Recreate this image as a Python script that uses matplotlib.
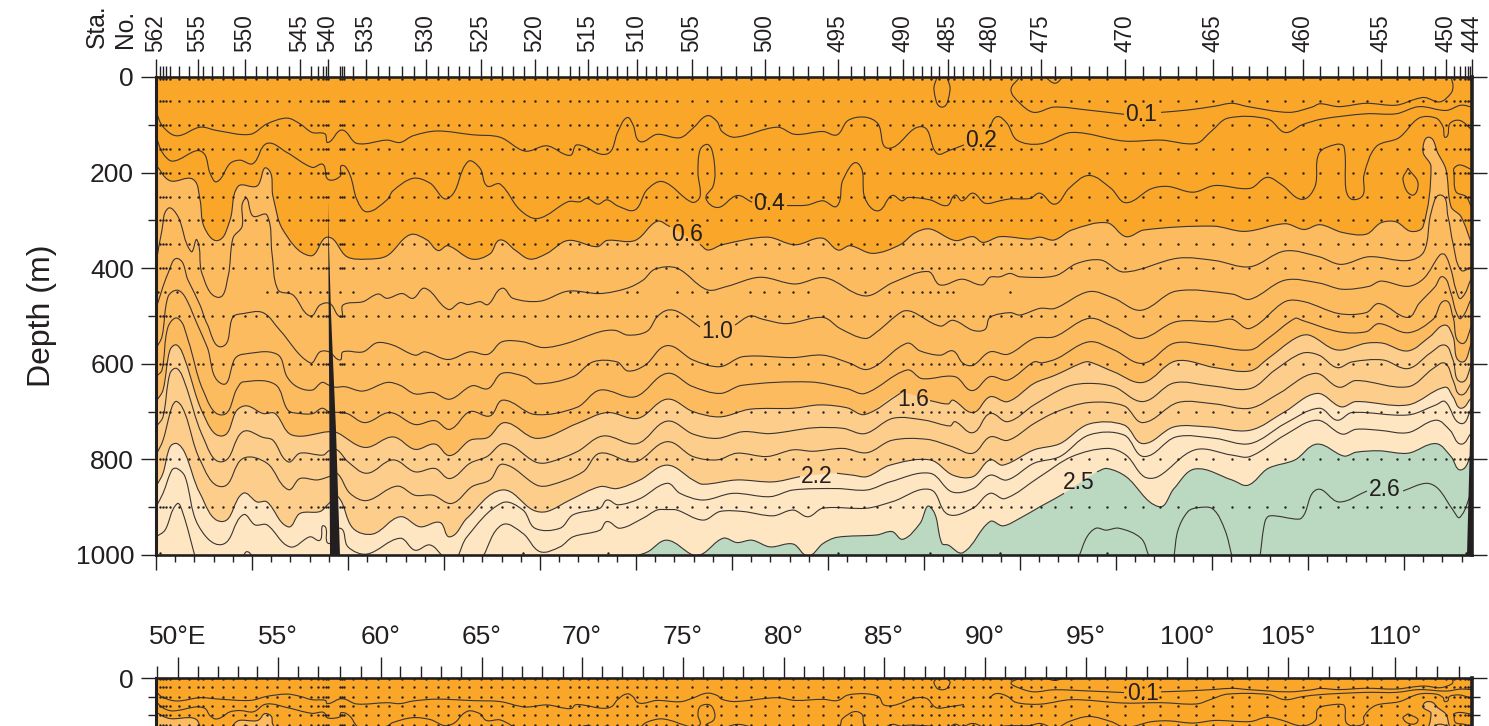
import numpy as np
import matplotlib
matplotlib.use("Agg")
import matplotlib.pyplot as plt
from matplotlib.path import Path
from matplotlib.patches import PathPatch, Polygon

plt.rcParams['font.family'] = ['Liberation Sans', 'DejaVu Sans']
N = float('nan')
GAP = (N, N)
INK = '#231F20'

# station positions (distance along the section) and numbers 562 ... 444
station_numbers = list(range(562, 443, -1))
station_dist = [0,4,7,10,14,23,33,42,47,56,67,77,89,100,111,121,133,144,155,162,167,170,172,184,186,188,197,210,222,233,246,258,270,282,292,303,313,325,335,346,357,368,379,391,402,414,423,432,441,451,461,471,481,490,500,510,521,536,551,565,580,595,609,623,637,652,667,682,695,708,721,734,747,757,766,775,783,792,798,807,817,827,834,845,855,865,875,885,899,915,933,951,969,987,1004,1022,1040,1057,1076,1093,1111,1129,1147,1164,1182,1197,1211,1225,1241,1253,1267,1279,1290,1298,1304,1309,1312,1314,1316]
labelled_stations = [562,555,550,545,540,535,530,525,520,515,510,505,500,495,490,485,480,475,470,465,460,455,450,444]

lon_minor_dist = [1,22,42,62,82,101,122,142,162,184,205,225,244,265,285,305,326,346,366,386,407,426,446,466,487,507,527,547,567,587,607,628,648,667,688,708,728,748,769,788,809,829,849,869,890,910,930,949,970,991,1011,1031,1051,1071,1091,1112,1132,1152,1173,1194,1216,1239,1260,1281,1303]
lon_major_dist = [22,122,225,326,426,527,628,728,829,930,1031,1132,1239]
lon_labels = ['50°E','55°','60°','65°','70°','75°','80°','85°','90°','95°','100°','105°','110°']

sample_depths = [5,50,100,150,200,250,300,350,400,500,600,700,800,900]
row_450 = [2,9,21,41,111,121,132,144,154,164,171,184,197,414,422,431,441,471,481,521,536,551,594,608,623,637,652,709,733,746,757,766,774,782,791,797,854,1289,1297,1305,1315]
row_1000 = [4,367,452,682,774,844,951,1310]

iso_01 = [(864,0),(855,27),(864,55),(878,74),(898,63),(931,69),(968,78),GAP,(1005,74),(1032,69),(1059,61),(1076,55),(1092,62),(1133,74),(1156,63),(1164,56),(1183,62),(1210,55),(1240,59),(1260,46),(1269,43),(1284,52),(1295,34),(1297,19),(1295,0)]
iso_01_b = [(889,0),(899,13),(907,0)]
iso_01_c = [(781,0),(778,27),(786,63),(794,27),(791,0)]
iso_02 = [(0,73),(7,104),(21,123),(44,105),(61,112),(94,120),(111,98),(131,86),(144,98),(156,116),(169,119),(172,137),(186,111),(201,139),(231,132),(244,137),(257,123),(281,113),(317,121),(344,126),(369,155),(391,144),(414,164),(421,142),(451,161),(462,114),(471,85),(477,100),(484,135),(501,120),(524,127),(537,107),(551,81),(561,93),(566,114),(579,126),(621,105),(639,120),(667,114),(681,121),(692,91),(709,84),(722,98),(732,149),(766,104),(781,160),(794,153),(808,142),GAP,(833,107),(841,83),(851,97),(861,132),(884,140),(916,116),(968,134),(1005,132),(1040,139),(1055,114),(1072,86),(1112,88),(1129,116),(1146,100),(1166,88),(1210,77),(1240,77),(1263,62),(1290,70),(1305,59),(1316,63)]
iso_04 = [(0,125),(7,160),(17,176),(41,154),(49,163),(54,201),(61,219),(74,181),(84,174),(97,181),(111,139),(131,158),(156,189),(167,183),(172,214),(184,208),(186,185),(194,205),(201,257),(211,282),(231,257),(237,238),(257,212),(274,222),(292,254),(312,177),(324,191),(331,228),(344,224),(364,278),(382,296),(412,261),(424,261),(431,254),(442,266),(451,257),(462,270),(479,278),(491,236),(507,219),(536,262),(544,250),(542,201),(544,153),(551,141),(556,153),(559,201),(557,229),(550,254),(562,273),(581,248),(596,262),GAP,(631,269),(651,268),(667,259),(681,270),(687,215),(702,181),(709,254),(722,280),(736,248),(746,259),(752,252),(774,257),(791,269),(799,247),(806,259),(817,243),(829,264),(844,259),(854,255),(874,254),(884,243),(899,266),(913,233),(933,206),(955,233),(970,263),(995,234),(1012,229),(1037,241),(1059,227),(1094,233),(1111,210),(1126,226),(1146,256),(1159,229),(1163,160),(1180,141),(1188,146),(1190,236),(1196,256),(1207,247),(1208,205),(1220,146),(1243,127),(1263,86),(1280,86),(1287,104),(1290,126),(1294,97),(1304,91),(1316,111)]
iso_04_oval = [(1252,191),(1247,215),(1256,247),(1262,222),(1252,191)]
iso_04_edge = [(1316,194),(1304,184),(1298,191),(1298,201),(1300,240),(1310,250),(1316,275)]
iso_06 = [(0,184),(14,217),(37,214),(44,257),(48,313),(62,342),(74,299),(82,229),(101,228),(111,191),(117,250),(127,320),(154,374),(172,335),(191,376),(211,381),(231,374),(254,330),(271,341),(282,363),(292,353),(316,381),(334,370),(344,341),(359,362),(374,381),(391,369),(412,342),(441,355),(451,342),(479,342),(501,302),(514,313),GAP,(544,350),(552,362),(566,351),(611,335),(639,351),(666,337),(682,362),(694,353),(717,369),(744,351),(759,326),(774,318),(799,342),(817,334),(827,346),(844,334),(874,339),(884,335),(898,341),(916,320),(951,305),(970,334),(988,320),(1057,312),(1089,323),(1129,307),(1148,319),(1164,309),(1186,325),(1210,329),(1225,305),(1240,303),(1255,323),(1267,313),(1275,188),(1267,156),(1273,126),(1282,160),(1290,194),(1295,271),(1305,292),(1316,351)]
iso_08 = [(0,390),(6,320),(12,275),(22,292),(35,365),(41,341),(46,411),(62,461),(72,418),(77,337),(86,313),(89,255),(97,291),(111,289),(116,369),(122,445),(137,456),(154,500),(164,477),(174,474),(185,502),(187,477),(207,470),(222,454),(231,463),(246,453),(257,463),(269,442),(292,486),(304,472),(312,476),(324,470),(332,476),(346,442),(357,463),(384,469),(412,448),(444,453),(471,442),(487,425),(499,402),(521,400),(551,445),(571,438),(604,419),(639,433),(669,420),(709,458),(737,430),(772,407),(784,435),(806,423),(826,435),(834,419),(844,418),(854,411),(864,418),(899,416),(921,390),(945,383),(968,408),(1022,379),(1059,384),(1094,397),(1129,364),(1163,376),(1185,392),(1213,376),(1252,384),(1268,365),(1275,285),(1285,247),(1292,292),(1297,348),(1305,404),(1316,397)]
iso_10 = [(0,484),(12,411),(22,380),(32,425),(44,477),(51,516),(66,564),(77,502),(87,495),(107,493),(124,530),(154,598),(164,575),(173,575),(184,592),(187,575),(207,575),(221,556),(237,561),(259,582),(269,575),(292,591),(314,575),(332,580),(346,554),(367,554),(387,566),(411,557),(444,533),(459,530),(472,540),(491,532),(501,502),(511,488),(522,491),(544,523),GAP,(579,519),(594,500),(607,507),(631,516),(667,503),(684,526),(709,547),(721,533),(746,491),(756,491),(784,521),(797,509),(817,530),(829,528),(834,503),(854,493),(864,498),(884,484),(899,484),(933,449),(958,463),(985,488),(1020,448),(1076,454),(1094,465),(1129,425),(1163,431),(1186,444),(1213,438),(1225,427),(1252,438),(1268,421),(1284,372),(1289,372),(1295,403),(1300,445),(1305,463),(1316,418)]
iso_12 = [(0,568),(6,543),(12,460),(21,446),(29,460),(41,516),(51,564),(66,642),(79,589),(87,580),(121,580),(131,627),(141,648),(156,655),(166,639),(173,645),(179,649),(189,648),(207,657),(231,639),(244,645),(259,663),(277,660),(294,674),(316,646),(332,652),(346,620),(369,627),(381,642),(417,627),(437,596),(461,596),(472,615),(489,603),(511,562),(537,592),(564,606),(587,585),(637,587),(667,582),(694,599),(709,612),(721,603),(751,557),(764,573),(784,582),(797,573),(807,599),(817,603),(834,575),(852,580),(878,547),(899,543),(933,505),(958,523),(985,547),(1020,512),(1059,512),(1076,507),(1094,526),(1129,470),(1148,470),(1183,495),(1210,493),(1223,474),(1252,503),(1263,474),(1279,439),(1287,418),(1295,453),(1300,491),(1305,505),(1316,460)]
iso_14 = [(0,627),(6,613),(12,523),(22,505),(32,550),(47,655),(66,707),(81,652),(87,638),(119,643),(132,697),(144,704),(157,704),(166,693),(173,700),(191,704),(209,723),(234,702),(259,727),(279,719),(294,737),(314,700),(334,709),(347,676),(379,706),(421,691),(444,655),(479,669),(511,620),(536,647),(564,662),(586,645),(654,638),(691,652),(709,662),(751,613),(766,631),(799,627),(816,656),(834,627),(852,634),(878,596),(886,598),(901,589),(933,554),(958,571),(987,599),(1018,557),(1052,561),(1094,571),(1112,547),(1139,505),(1146,509),(1183,533),(1210,533),(1223,516),(1252,535),(1277,507),(1289,468),(1297,502),(1305,557),(1316,519)]
iso_16 = [(0,679),(7,655),(14,571),(21,561),(29,592),(47,704),(66,751),(81,697),(91,688),(107,704),(119,704),(136,749),(173,742),(181,744),(209,775),(237,753),(259,779),(279,768),(294,792),(314,760),(332,754),(349,723),(381,756),(421,725),(451,702),(482,714),(511,674),(537,700),(564,711),(594,695),(637,693),(664,686),(691,692),(709,706),(744,662),GAP,(774,677),(792,684),(797,676),(817,702),(834,669),(852,679),(878,641),(899,624),(925,599),(933,596),(958,617),(987,639),(1020,594),(1059,608),(1094,615),(1112,589),(1139,547),(1153,540),(1181,571),(1210,557),(1227,557),(1252,573),(1274,543),(1289,519),(1297,543),(1305,596),(1316,554)]
iso_18 = [(0,732),(7,711),(14,620),(21,610),(29,641),(47,753),(66,805),(87,742),(107,754),(117,760),(132,805),(144,787),(167,791),(173,782),(181,780),(192,805),(211,829),(237,801),(259,826),(279,819),(294,840),(314,808),(331,794),(349,767),(379,805),(391,807),(421,784),(447,751),(481,767),(511,720),(537,747),(561,756),(587,742),(614,746),(657,734),(687,735),(709,746),(737,714),(769,718),(794,730),(799,721),(817,744),(834,704),(852,721),(878,686),(911,648),(933,641),(958,648),(987,679),(1018,640),(1055,646),(1094,652),(1119,613),(1146,578),(1163,582),(1181,608),(1196,596),(1227,592),(1252,610),(1274,578),(1289,561),(1297,592),(1305,638),(1316,599)]
iso_20 = [(0,791),(7,760),(16,690),(21,679),(29,704),(44,801),(66,857),(87,798),(111,808),(132,863),(144,840),(161,843),(173,836),(181,829),(194,871),(211,886),(241,856),(259,875),(277,875),(296,892),(316,857),(334,843),(347,810),(381,854),(394,854),(427,826),(444,787),(479,805),(511,763),(537,794),(561,801),(581,787),(611,794),(637,780),(657,783),(687,777),(711,786),(736,760),(771,758),(797,774),(817,787),(834,753),(852,760),(878,725),(901,700),(933,681),(968,688),(987,723),(1022,681),(1059,684),(1094,693),(1123,662),(1159,620),(1183,649),(1200,635),(1252,648),(1277,610),(1289,599),(1297,634),(1305,665),(1316,638)]
iso_22 = [(0,857),(7,829),(14,774),(21,767),(29,787),(44,871),(66,930),(87,871),(101,889),(111,889),(132,941),(144,913),(164,909),(173,892),(182,878),(197,944),(217,956),(244,920),(264,941),(284,932),(294,962),(311,923),(346,864),(377,906),(391,909),(414,885),(444,857),(461,861),(484,843),(511,812),(537,843),(547,852),(581,843),(617,847),(644,836),GAP,(681,829),(697,833),(711,836),(734,812),(774,801),(797,833),(817,836),(834,801),(847,812),(878,780),(904,767),(933,726),(968,728),(987,767),(1018,732),(1052,732),(1094,739),(1129,700),(1161,662),(1185,690),(1200,679),(1252,686),(1289,649),(1297,669),(1305,693),(1316,669)]
iso_23 = [(0,899),(7,871),(16,822),(21,819),(29,836),(42,937),(66,978),(87,916),(99,937),(111,937),(134,983),(154,962),(164,969),(168,939),(173,976),(184,944),(192,983),(211,998),(244,965),(259,990),(274,979),(287,1003),GAP,(302,1003),(311,962),(346,891),(367,906),(379,944),(404,944),(417,916),(444,902),(451,885),(462,895),(484,882),(511,850),(524,871),(547,885),(577,871),(614,878),(637,864),(681,861),(711,864),(734,847),(774,829),(796,868),(817,861),(834,833),(851,843),(878,808),(904,794),(933,749),(968,749),(988,794),(1020,753),(1059,756),(1094,767),(1129,725),(1163,693),(1181,718),(1196,702),(1252,707),(1280,686),(1289,679),(1305,725),(1316,690)]
iso_24 = [(0,962),(9,948),(21,893),(27,913),(39,1003),GAP,(87,1003),(91,993),(97,1003),GAP,(327,1003),(346,937),(367,955),(384,993),(404,983),(417,962),(444,948),(451,930),(464,944),(487,923),(501,906),(511,905),(521,906),(547,927),(564,909),(587,909),(617,918),(637,906),(652,920),(667,902),(711,902),(737,888),(774,863),(792,915),(817,902),(834,871),(849,882),(884,836),(916,794),(951,777),(970,791),(988,836),(1002,836),(1039,780),(1076,791),(1094,794),(1129,749),(1161,718),(1186,747),(1200,737),(1223,739),(1252,744),(1280,718),(1294,739),(1305,768),(1316,742)]
iso_25 = [(479,1003),(492,993),(511,969),(537,1000),(547,997),(567,965),(581,974),(596,969),(614,983),(637,977),(652,1002),(667,976),(681,963),(721,958),(736,951),(747,967),(764,934),(774,899),(786,976),(792,979),(807,995),(834,930),(847,939),(864,923),(884,899),(899,882),(908,871),GAP,(941,826),(951,819),(970,836),(1003,899),(1018,861),(1039,820),(1076,843),(1092,854),(1112,819),(1139,801),(1161,768),(1188,793),(1200,785),(1223,782),(1252,787),(1280,767),(1295,794),(1305,822),(1316,787)]
iso_26_a = [(923,1003),(931,962),(940,944),(950,948),(963,944),(985,965),(993,1003)]
iso_26_b = [(1018,1003),(1022,948),(1032,909),(1042,901),(1057,904),(1069,948),(1076,1003)]
iso_26_c = [(1104,1003),(1109,930),(1114,918),(1143,925),(1148,916),(1161,863),(1183,889),(1211,866),GAP,(1247,866),(1270,850),(1282,861),(1297,906),(1304,921),(1316,864)]

ridge_outline = [(172,260),(173,600),(174,1000),(184,1000),(180,739),(175,495),(173,350)]
east_slope_outline = [(1316,600),(1311,1000),(1316,1000)]

# (upper isoline of each band, colour)
bands = [(iso_06,'#FDBB5F'),(iso_16,'#FDCE8B'),(iso_22,'#FEE6C2'),(iso_25,'#BBD8C0')]
base_colour = '#FAA628'
all_lines = [iso_01,iso_01_b,iso_01_c,iso_02,iso_04,iso_04_oval,iso_04_edge,iso_06,iso_08,iso_10,iso_12,iso_14,iso_16,iso_18,iso_20,iso_22,iso_23,iso_24,iso_25,iso_26_a,iso_26_b,iso_26_c]
contour_labels = [('0.1',985,78),('0.2',825,132),('0.4',613,264),('0.6',531,329),('1.0',561,532),('1.6',757,674),('2.2',661,836),('2.5',923,849),('2.6',1229,864)]

ASPECT = 0.478

def bezier(points):
    """Cubic pieces through the read points, returned as vertices and codes without MOVETO."""
    p = np.asarray(points, float)
    q = p * [1, ASPECT]
    n = len(p)
    tan = np.zeros_like(q)
    for i in range(n):
        a, b = q[max(i-1, 0)], q[min(i+1, n-1)]
        d = b - a
        tan[i] = d / (np.hypot(*d) or 1)
    verts, codes = [], []
    for i in range(n-1):
        L = np.hypot(*(q[i+1]-q[i])) / 3
        c1 = (q[i] + tan[i]*L) / [1, ASPECT]
        c2 = (q[i+1] - tan[i+1]*L) / [1, ASPECT]
        verts += [c1, c2, p[i+1]]
        codes += [Path.CURVE4]*3
    return verts, codes

def split(points):
    runs, cur = [], []
    for pt in points:
        if np.isnan(pt[0]):
            runs.append(cur); cur = []
        else:
            cur.append(pt)
    runs.append(cur)
    return runs

def draw_section(ax):
    ax.set_facecolor(base_colour)
    for line, colour in bands:
        pts = [pt for pt in line if not np.isnan(pt[0])]
        v, c = bezier(pts)
        verts = [pts[0]] + v + [(pts[-1][0], 1100), (pts[0][0], 1100), pts[0]]
        codes = [Path.MOVETO] + c + [Path.LINETO, Path.LINETO, Path.CLOSEPOLY]
        ax.add_patch(PathPatch(Path(verts, codes), fc=colour, ec='none', zorder=1))
    for line in all_lines:
        for run in split(line):
            v, c = bezier(run)
            ax.add_patch(PathPatch(Path([run[0]] + v, [Path.MOVETO] + c), fc='none', ec='#3A3533', lw=0.8, zorder=2))
    xs = np.array(station_dist)
    for d in sample_depths:
        ax.scatter(xs, np.full(xs.size, d), s=3.0, c=INK, linewidths=0, zorder=3)
    ax.scatter(row_450, [450]*len(row_450), s=3.0, c=INK, linewidths=0, zorder=3)
    ax.scatter(row_1000, [995]*len(row_1000), s=3.0, c=INK, linewidths=0, zorder=3)
    ax.add_patch(Polygon(ridge_outline, closed=True, fc=INK, ec='none', zorder=4))
    ax.add_patch(Polygon(east_slope_outline, closed=True, fc=INK, ec='none', zorder=4))

W, H = 1489, 726
fig = plt.figure(figsize=(W/100, H/100), dpi=100, facecolor='white')
L, R = 156, 1472

def make_axes(top, bottom):
    return fig.add_axes([L/W, 1-bottom/H, (R-L)/W, (bottom-top)/H])

ax = make_axes(77, 555)
ax.set_xlim(0, 1316)
ax.set_ylim(1000, 0)
draw_section(ax)
ax.set_xticks(np.arange(0, 1316, 96))
ax.set_xticks(np.arange(0, 1316, 19.2), minor=True)
ax.set_xticklabels([])
ax.set_yticks([0,200,400,600,800,1000])
ax.set_yticks(np.arange(0,1001,100), minor=True)
ax.tick_params(axis='x', which='major', length=10.8, width=1.0, color=INK, bottom=True)
ax.tick_params(axis='x', which='minor', length=5.2, width=1.0, color=INK, bottom=True)
ax.tick_params(axis='y', which='major', length=10.8, width=1.0, color=INK, left=True, right=True, labelsize=19, labelcolor=INK, pad=5)
ax.tick_params(axis='y', which='minor', length=5.8, width=1.0, color=INK, left=True, right=True)
for s, w in zip(['left','right','top','bottom'], [2.2,2.6,1.9,1.9]):
    ax.spines[s].set_linewidth(w); ax.spines[s].set_color(INK); ax.spines[s].set_zorder(6)
for text, x, d in contour_labels:
    ax.text(x, d, text, fontsize=16.5, color=INK, ha='center', va='center', zorder=5)

top = ax.secondary_xaxis('top')
major_pos = [station_dist[station_numbers.index(s)] for s in labelled_stations]
top.set_xticks(major_pos)
top.set_xticklabels([str(s) for s in labelled_stations], rotation=90, fontsize=16.3, color=INK, ha='center', va='bottom')
top.set_xticks(station_dist, minor=True)
top.tick_params(axis='x', which='major', length=13, width=1.0, color=INK, pad=5.2)
top.tick_params(axis='x', which='minor', length=7.6, width=1.0, color=INK)
top.spines['top'].set_visible(False)

fig.text(97/W, 1-48/H, 'Sta.', rotation=90, fontsize=17.7, color=INK, ha='center', va='bottom')
fig.text(125/W, 1-48/H, 'No.', rotation=90, fontsize=17.7, color=INK, ha='center', va='bottom')
fig.text(42/W, 1-316/H, 'Depth (m)', rotation=90, fontsize=23, color=INK, ha='center', va='center')

ax2 = make_axes(678, 726)
ax2.set_xlim(0, 1316)
ax2.set_ylim(48/0.187, 0)
draw_section(ax2)
ax2.set_yticks([0])
ax2.set_yticks([100,200], minor=True)
ax2.set_xticks([])
ax2.tick_params(axis='y', which='major', length=10.8, width=1.0, color=INK, left=True, right=True, labelsize=19, labelcolor=INK, pad=5)
ax2.tick_params(axis='y', which='minor', length=5.8, width=1.0, color=INK, left=True, right=True)
for s, w in zip(['left','right','top'], [2.2,2.6,1.9]):
    ax2.spines[s].set_linewidth(w); ax2.spines[s].set_color(INK); ax2.spines[s].set_zorder(6)
ax2.spines['bottom'].set_visible(False)
ax2.text(contour_labels[0][1]+2, 82, contour_labels[0][0], fontsize=16.5, color=INK, ha='center', va='center', zorder=5, clip_on=True)

top2 = ax2.secondary_xaxis('top')
top2.set_xticks(lon_major_dist)
top2.set_xticklabels(lon_labels, fontsize=19, color=INK)
top2.set_xticks(lon_minor_dist, minor=True)
top2.tick_params(axis='x', which='major', length=15, width=1.0, color=INK, pad=5.8)
top2.tick_params(axis='x', which='minor', length=8.6, width=1.0, color=INK)
top2.spines['top'].set_visible(False)

fig.savefig('out.png', dpi=100, facecolor='white')
